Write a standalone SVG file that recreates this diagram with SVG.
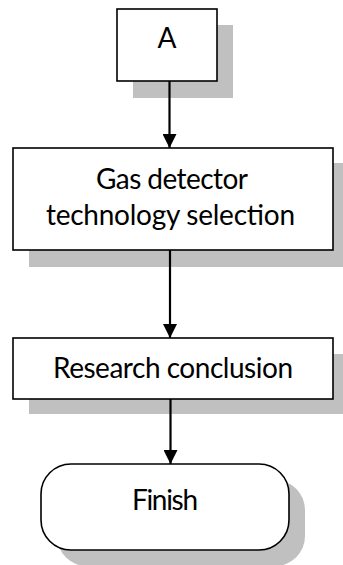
<svg xmlns="http://www.w3.org/2000/svg" width="343" height="565" viewBox="0 0 343 565">
  <defs>
    <marker id="arrow" viewBox="0 0 14 14" refX="14" refY="7" markerWidth="14" markerHeight="14" markerUnits="userSpaceOnUse" orient="auto">
      <path d="M0,0 L14,7 L0,14 Z" fill="#000"/>
    </marker>
  </defs>
  <style>
    .shadow { fill: #c0c0c0; }
    .box { fill: #fff; stroke: #000; stroke-width: 1.6; }
    .label { font-family: "Lato", "Open Sans", "Liberation Sans", sans-serif; font-size: 28px; fill: #000; text-anchor: middle; }
    .conn { stroke: #000; stroke-width: 2.2; fill: none; marker-end: url(#arrow); }
  </style>
  <rect width="343" height="565" fill="#fff"/>

  <g id="node-a">
    <rect class="shadow" x="133" y="25" width="100" height="73"/>
    <rect class="box" x="117" y="9" width="100" height="72"/>
    <text class="label" x="167" y="48">A</text>
  </g>

  <g id="node-selection">
    <rect class="shadow" x="29" y="163" width="316" height="104"/>
    <rect class="box" x="13" y="148" width="320" height="102"/>
    <text class="label" x="172" y="189" textLength="152">Gas detector</text>
    <text class="label" x="170.5" y="225" textLength="249">technology selection</text>
  </g>

  <g id="node-conclusion">
    <rect class="shadow" x="29" y="354" width="316" height="60"/>
    <rect class="box" x="13" y="338" width="320" height="61"/>
    <text class="label" x="173" y="378" textLength="240">Research conclusion</text>
  </g>

  <g id="node-finish">
    <rect class="shadow" x="57" y="480" width="248" height="86" rx="30" ry="30"/>
    <rect class="box" x="41" y="464" width="248" height="86" rx="30" ry="30"/>
    <text class="label" x="165" y="510" textLength="66">Finish</text>
  </g>

  <g id="connectors">
    <line class="conn" x1="169.5" y1="81" x2="169.5" y2="148"/>
    <line class="conn" x1="170" y1="250" x2="170" y2="338"/>
    <line class="conn" x1="170.5" y1="399" x2="170.5" y2="464"/>
  </g>
</svg>
